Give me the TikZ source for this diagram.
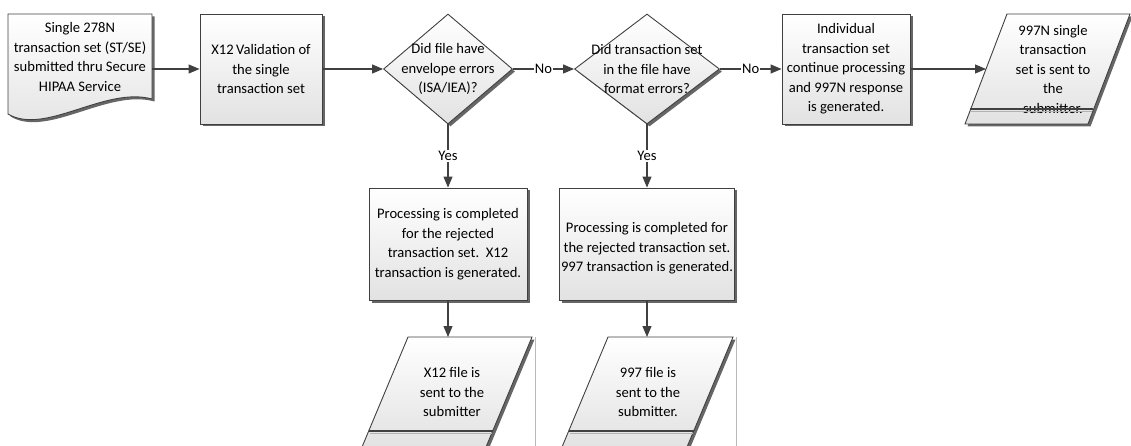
\documentclass[tikz,border=0pt]{standalone}
\usepackage{fontspec}
\setmainfont{Carlito}
\usetikzlibrary{shapes.geometric,arrows.meta,shadows}

\definecolor{edgegray}{HTML}{404040}
\definecolor{fillgray}{HTML}{E2E2E2}

\tikzset{
  shaded/.style={draw=edgegray, line width=0.9pt, top color=white, bottom color=fillgray,
    drop shadow={shadow xshift=2.5pt, shadow yshift=-2.5pt, fill=black!60, opacity=1}},
  procbox/.style={shaded, rectangle, align=center, inner sep=1pt},
  decision/.style={shaded, diamond, inner sep=0pt, minimum height=110pt},
  flow/.style={draw=edgegray, line width=1.1pt, -{Triangle[length=11pt,width=9pt]}},
  answer/.style={fill=white, inner sep=1pt},
  band/.style={draw=edgegray, line width=1.6pt},
  bandshade/.style={draw=gray!60, line width=1pt},
}

\begin{document}
\begin{tikzpicture}[x=1pt, y=-1pt, font=\fontsize{14.6}{19.5}\selectfont]
\useasboundingbox (0,0) rectangle (1131,446);
\clip (0,0) rectangle (1131,446);

% top row
\draw[shaded] (8,14) -- (152,14) -- (152,99)
  .. controls (105,86) and (45,136) .. (8,114) -- cycle;
\node[align=center, minimum width=144pt] (doc) at (80,57)
  {Single 278N\\transaction set (ST/SE)\\submitted thru Secure\\HIPAA Service};
\node[procbox, minimum width=122pt, minimum height=110pt] (valid) at (261,69)
  {X12\,Validation of\\the single\\transaction set};
\node[decision, minimum width=129pt,
  label={[align=center]center:Did file have\\envelope errors\\(ISA/IEA)?}] (env) at (448,69) {};
\node[decision, minimum width=145pt,
  label={[align=center]center:Did transaction set\\in the file have\\format errors?}] (fmt) at (647,69) {};
\node[procbox, minimum width=128pt, minimum height=110pt] (cont) at (846,69)
  {Individual\\transaction set\\continue processing\\and 997N response\\is generated.};

% output sent to the submitter
\draw[shaded] (965,124) -- (1007,14) -- (1130,14) -- (1088,124) -- cycle;
\node[align=center] (out) at (1053,69)
  {997N single\\transaction\\set is sent to\\the\\submitter.};
\draw[bandshade] (971,111.5) -- (1092,111.5);
\draw[band] (970,109) -- (1093,109);
\coordinate (outin) at (986,69);

% rejected branches
\node[procbox, minimum width=158pt, minimum height=112pt] (rejX) at (448,244)
  {Processing is completed\\for the rejected\\transaction set.~~X12\\transaction is generated.};
\node[procbox, minimum width=175pt, minimum height=112pt] (rej997) at (647,244)
  {\mbox{}\\Processing is completed for\\the rejected transaction set.\\997 transaction is generated.};

\draw[shaded] (362,447) -- (408,337) -- (532,337) -- (486,447) -- cycle;
\draw[gray!55, line width=1pt] (535,337) -- (535,450);
\node[align=center] (outX) at (452,392) {X12 file is\\sent to the\\submitter};
\draw[bandshade] (370,433.5) -- (492,433.5);
\draw[band] (369,431) -- (493,431);
\coordinate (outXin) at (448,337);

\draw[shaded] (562,447) -- (608,337) -- (733,337) -- (687,447) -- cycle;
\draw[gray!55, line width=1pt] (736,337) -- (736,450);
\node[align=center] (out997) at (648,392) {997 file is\\sent to the\\submitter.};
\draw[bandshade] (570,433.5) -- (693,433.5);
\draw[band] (569,431) -- (694,431);
\coordinate (out997in) at (647,337);

% connectors
\draw[flow] (doc.east |- valid.west) -- (valid.west);
\draw[flow] (valid) -- (env);
\draw[flow] (env) -- node[answer] {No} (fmt);
\draw[flow] (fmt) -- node[answer] {No} (cont);
\draw[flow] (cont) -- (outin);
\draw[flow] (env.south) -- node[answer] {Yes} (rejX.north);
\draw[flow] (fmt.south) -- node[answer] {Yes} (rej997.north);
\draw[flow] (rejX.south) -- (outXin);
\draw[flow] (rej997.south) -- (out997in);
\end{tikzpicture}
\end{document}
